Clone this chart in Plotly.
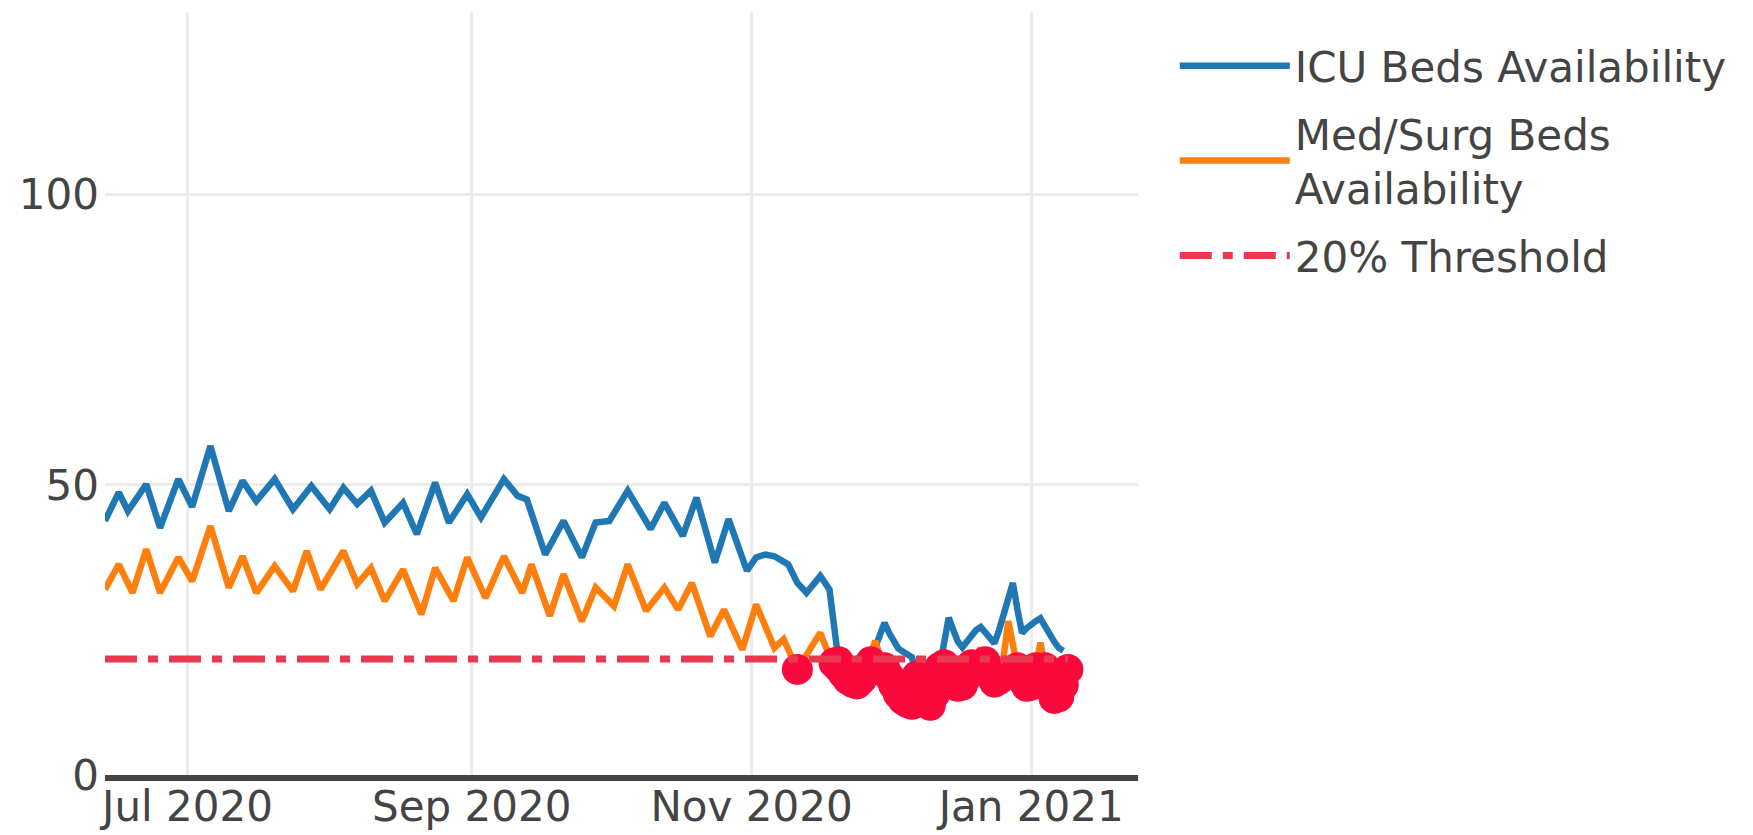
import plotly.graph_objects as go

# ---------------------------------------------------------------------------
# Data: bed availability in %
# Summer/autumn: turning points of each curve; from mid-November: daily values
# ---------------------------------------------------------------------------
ICU_DATES = [
    "2020-06-13", "2020-06-16", "2020-06-18", "2020-06-22", "2020-06-25", "2020-06-29",
    "2020-07-02", "2020-07-06", "2020-07-10", "2020-07-13", "2020-07-16", "2020-07-20",
    "2020-07-24", "2020-07-28", "2020-08-01", "2020-08-04", "2020-08-07", "2020-08-10",
    "2020-08-13", "2020-08-17", "2020-08-20", "2020-08-24", "2020-08-27", "2020-08-31",
    "2020-09-03", "2020-09-08", "2020-09-11", "2020-09-13", "2020-09-17", "2020-09-21",
    "2020-09-25", "2020-09-28", "2020-10-01", "2020-10-05", "2020-10-10", "2020-10-13",
    "2020-10-17", "2020-10-20", "2020-10-24", "2020-10-27", "2020-10-31", "2020-11-02",
    "2020-11-04", "2020-11-06", "2020-11-09", "2020-11-11", "2020-11-13", "2020-11-16",
    "2020-11-18", "2020-11-19", "2020-11-20", "2020-11-21", "2020-11-22", "2020-11-23",
    "2020-11-24", "2020-11-25", "2020-11-26", "2020-11-27", "2020-11-28", "2020-11-29",
    "2020-11-30", "2020-12-01", "2020-12-02", "2020-12-03", "2020-12-04", "2020-12-05",
    "2020-12-06", "2020-12-07", "2020-12-08", "2020-12-09", "2020-12-10", "2020-12-11",
    "2020-12-12", "2020-12-13", "2020-12-14", "2020-12-15", "2020-12-16", "2020-12-17",
    "2020-12-18", "2020-12-19", "2020-12-20", "2020-12-21", "2020-12-22", "2020-12-23",
    "2020-12-24", "2020-12-25", "2020-12-26", "2020-12-27", "2020-12-28", "2020-12-29",
    "2020-12-30", "2020-12-31", "2021-01-01", "2021-01-02", "2021-01-03", "2021-01-04",
    "2021-01-05", "2021-01-06", "2021-01-07", "2021-01-08",
]
ICU_VALUES = [
    43.8, 48.7, 45.5, 50.1, 42.6, 51.0,
    46.2, 56.7, 45.5, 50.7, 47.2, 51.0,
    45.8, 49.8, 45.8, 49.5, 46.7, 49.0,
    43.5, 46.9, 41.5, 50.4, 43.5, 48.4,
    44.4, 51.0, 48.1, 47.5, 38.0, 43.8,
    37.5, 43.5, 43.8, 49.0, 42.4, 46.9,
    41.2, 47.8, 36.6, 44.1, 35.2, 37.5,
    38.0, 37.7, 36.3, 33.1, 31.4, 34.3,
    32.0, 25.0, 19.5, 18.5, 17.0, 16.0,
    16.5, 18.0, 18.5, 19.5, 22.0, 24.5,
    26.2, 24.5, 23.0, 21.8, 21.3, 20.8,
    20.3, 17.0, 14.5, 13.0, 12.0, 14.0,
    18.0, 22.5, 27.1, 25.0, 23.0, 22.0,
    23.0, 24.0, 25.0, 25.5, 24.5, 23.5,
    22.7, 25.0, 28.0, 31.0, 33.1, 28.5,
    24.5, 25.3, 26.0, 26.5, 27.0, 25.5,
    24.0, 23.0, 21.9, 21.4,
]

MEDSURG_DATES = [
    "2020-06-13", "2020-06-16", "2020-06-19", "2020-06-22", "2020-06-25", "2020-06-29",
    "2020-07-02", "2020-07-06", "2020-07-10", "2020-07-13", "2020-07-16", "2020-07-20",
    "2020-07-24", "2020-07-27", "2020-07-30", "2020-08-04", "2020-08-07", "2020-08-10",
    "2020-08-13", "2020-08-17", "2020-08-21", "2020-08-24", "2020-08-28", "2020-08-31",
    "2020-09-04", "2020-09-08", "2020-09-12", "2020-09-14", "2020-09-18", "2020-09-21",
    "2020-09-25", "2020-09-28", "2020-10-02", "2020-10-05", "2020-10-09", "2020-10-13",
    "2020-10-16", "2020-10-19", "2020-10-23", "2020-10-26", "2020-10-30", "2020-11-02",
    "2020-11-06", "2020-11-08", "2020-11-11", "2020-11-16", "2020-11-17", "2020-11-18",
    "2020-11-19", "2020-11-20", "2020-11-21", "2020-11-22", "2020-11-23", "2020-11-24",
    "2020-11-25", "2020-11-26", "2020-11-27", "2020-11-28", "2020-11-29", "2020-11-30",
    "2020-12-01", "2020-12-02", "2020-12-03", "2020-12-04", "2020-12-05", "2020-12-06",
    "2020-12-07", "2020-12-08", "2020-12-09", "2020-12-10", "2020-12-11", "2020-12-12",
    "2020-12-13", "2020-12-14", "2020-12-15", "2020-12-16", "2020-12-17", "2020-12-18",
    "2020-12-19", "2020-12-20", "2020-12-21", "2020-12-22", "2020-12-23", "2020-12-24",
    "2020-12-25", "2020-12-26", "2020-12-27", "2020-12-28", "2020-12-29", "2020-12-30",
    "2020-12-31", "2021-01-01", "2021-01-02", "2021-01-03", "2021-01-04", "2021-01-05",
    "2021-01-06", "2021-01-07", "2021-01-08", "2021-01-09",
]
MEDSURG_VALUES = [
    32.0, 36.3, 31.4, 38.9, 31.4, 37.5,
    33.4, 42.9, 32.3, 37.7, 31.4, 36.0,
    31.7, 38.6, 32.0, 38.6, 32.9, 35.7,
    30.0, 35.4, 27.7, 35.7, 30.0, 37.5,
    30.5, 37.7, 31.4, 36.3, 27.4, 34.6,
    26.5, 32.3, 29.1, 36.3, 28.3, 32.3,
    28.5, 33.1, 23.9, 28.5, 21.6, 29.4,
    21.9, 23.4, 18.2, 24.5, 22.5, 20.5,
    19.3, 18.5, 17.5, 16.5, 16.0, 15.7,
    16.5, 18.5, 21.0, 23.1, 20.5, 18.5,
    17.0, 15.5, 14.0, 13.0, 12.5, 12.2,
    12.5, 13.5, 15.0, 16.5, 17.5, 18.5,
    19.0, 18.0, 16.5, 15.3, 15.5, 17.0,
    19.0, 20.5, 21.9, 19.5, 17.5, 16.0,
    16.5, 20.5, 26.5, 22.0, 18.5, 16.5,
    15.3, 15.5, 18.5, 22.8, 18.5, 15.0,
    13.2, 13.5, 15.5, 18.2,
]

THRESHOLD = 20
THRESHOLD_DATES = ["2020-06-13", "2021-01-09"]

# Points under the threshold (from both series) get a red marker
LOW_DATES = [d for d, v in zip(ICU_DATES, ICU_VALUES) if v < THRESHOLD] + \
            [d for d, v in zip(MEDSURG_DATES, MEDSURG_VALUES) if v < THRESHOLD]
LOW_VALUES = [v for v in ICU_VALUES if v < THRESHOLD] + \
             [v for v in MEDSURG_VALUES if v < THRESHOLD]

# ---------------------------------------------------------------------------
# Style
# ---------------------------------------------------------------------------
FONT = "DejaVu Sans, Verdana, sans-serif"
TEXT_COLOR = "#444444"
GRID_COLOR = "#ececec"
FONT_SIZE = 42

fig = go.Figure()

fig.add_trace(go.Scatter(
    x=ICU_DATES, y=ICU_VALUES, mode="lines",
    name="ICU Beds Availability", legendgroup="icu",
    line=dict(color="#1f77b4", width=6.5),
))
fig.add_trace(go.Scatter(
    x=MEDSURG_DATES, y=MEDSURG_VALUES, mode="lines",
    name="Med/Surg Beds<br>Availability", legendgroup="medsurg",
    line=dict(color="#ff7f0e", width=6.5),
))
fig.add_trace(go.Scatter(
    x=LOW_DATES, y=LOW_VALUES, mode="markers",
    showlegend=False, legendgroup="low",
    marker=dict(color="#fa0a3c", size=31),
))
fig.add_trace(go.Scatter(
    x=THRESHOLD_DATES, y=[THRESHOLD] * len(THRESHOLD_DATES), mode="lines",
    name="20% Threshold", legendgroup="thr",
    line=dict(color="#e8394f", width=7, dash="32px,11px,10px,11px"),
))

# the page adds an 8px body margin, so the figure is kept 8px smaller
fig.update_layout(
    width=1745, height=827,
    paper_bgcolor="white", plot_bgcolor="white",
    margin=dict(l=97, r=615, t=4, b=60),
    font=dict(family=FONT, size=FONT_SIZE, color=TEXT_COLOR),
    showlegend=True,
    legend=dict(
        x=1.0356, y=0.974, xanchor="left", yanchor="top",
        font=dict(family=FONT, size=FONT_SIZE, color=TEXT_COLOR),
        tracegroupgap=10,
        itemwidth=110,
        bgcolor="rgba(0,0,0,0)",
    ),
    xaxis=dict(
        type="date", automargin=False,
        range=["2020-06-13", "2021-01-24 07:00"],
        tick0="2020-07-01", dtick="M2", tickformat="%b %Y",
        showgrid=True, gridcolor=GRID_COLOR, gridwidth=2.5,
        showline=True, linecolor=TEXT_COLOR, linewidth=6,
        zeroline=False, ticks="", ticklabelstandoff=-10,
        tickfont=dict(family=FONT, size=FONT_SIZE, color=TEXT_COLOR),
    ),
    yaxis=dict(
        automargin=False,
        range=[0, 131.5], tick0=0, dtick=50,
        showgrid=True, gridcolor=GRID_COLOR, gridwidth=2.5,
        zeroline=False, showline=False, ticks="", ticklabelstandoff=5,
        tickfont=dict(family=FONT, size=FONT_SIZE, color=TEXT_COLOR),
    ),
)

fig.write_html("out.html")
